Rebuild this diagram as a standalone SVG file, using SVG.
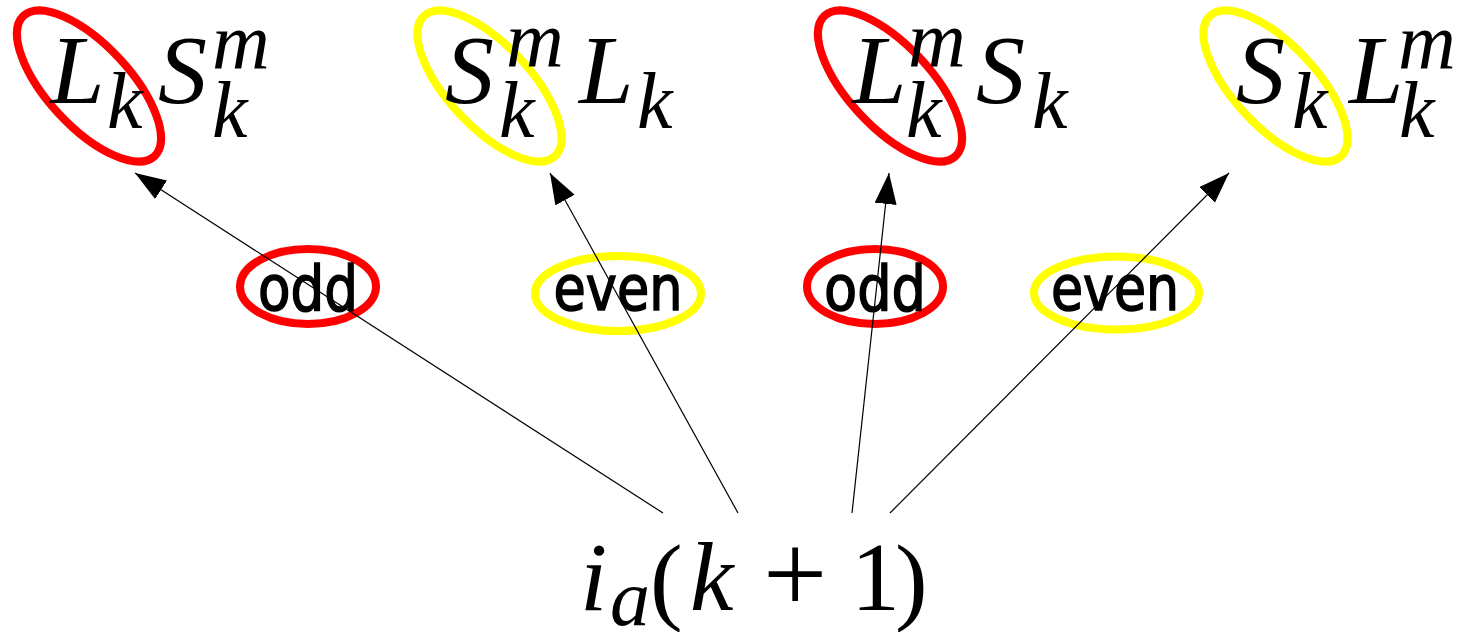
<svg xmlns="http://www.w3.org/2000/svg" width="1474" height="632" viewBox="0 0 1474 632">
<defs>
<style>
.m{font-family:"Liberation Serif",serif;font-style:italic;font-size:98px;fill:#000}
.s{font-family:"Liberation Serif",serif;font-style:italic;font-size:80px;fill:#000}
.r{font-family:"Liberation Serif",serif;font-size:98px;fill:#000}
.lbl{font-family:"DejaVu Sans",sans-serif;font-size:62px;fill:#000;stroke:#000;stroke-width:1.6;text-anchor:middle}
.red{fill:none;stroke:#ff0000;stroke-width:8}
.yel{fill:none;stroke:#ffff00;stroke-width:8}
.con{stroke:#000;stroke-width:1.2;fill:none;marker-end:url(#ah)}
</style>
<marker id="ah" markerUnits="userSpaceOnUse" markerWidth="32" markerHeight="24" refX="31" refY="11" orient="auto">
<path d="M0,0 L31,11 L0,22 Z" fill="#000"/>
</marker>
</defs>
<rect width="1474" height="632" fill="#fff"/>

<g id="node1">
<ellipse class="red" cx="89" cy="86" rx="96" ry="41" transform="rotate(47 89 86)"/>
<text class="m" x="50" y="103">L</text>
<text class="s" x="107" y="128">k</text>
<text class="m" x="158" y="103">S</text>
<text class="s" x="212" y="68">m</text>
<text class="s" x="212" y="137">k</text>
</g>

<g id="node2">
<ellipse class="yel" cx="489.5" cy="86" rx="96" ry="41" transform="rotate(47 489.5 86)"/>
<text class="m" x="445" y="103">S</text>
<text class="s" x="506" y="66">m</text>
<text class="s" x="499" y="137">k</text>
<text class="m" x="579" y="103">L</text>
<text class="s" x="637" y="128">k</text>
</g>

<g id="node3">
<ellipse class="red" cx="890" cy="86" rx="96" ry="41" transform="rotate(47 890 86)"/>
<text class="m" x="852" y="103">L</text>
<text class="s" x="908" y="66">m</text>
<text class="s" x="906" y="137">k</text>
<text class="m" x="976" y="103">S</text>
<text class="s" x="1032" y="128">k</text>
</g>

<g id="node4">
<ellipse class="yel" cx="1275.5" cy="86" rx="96" ry="41" transform="rotate(47 1275.5 86)"/>
<text class="m" x="1236" y="103">S</text>
<text class="s" x="1292" y="128">k</text>
<text class="m" x="1349" y="103">L</text>
<text class="s" x="1398" y="68">m</text>
<text class="s" x="1399" y="137">k</text>
</g>

<g id="label-odd-1">
<ellipse class="red" cx="308" cy="286.5" rx="68" ry="37.5"/>
<text class="lbl" x="308" y="310" textLength="100" lengthAdjust="spacingAndGlyphs">odd</text>
</g>
<g id="label-even-1">
<ellipse class="yel" cx="618" cy="293.5" rx="83" ry="37.5"/>
<text class="lbl" x="618" y="310" textLength="129" lengthAdjust="spacingAndGlyphs">even</text>
</g>
<g id="label-odd-2">
<ellipse class="red" cx="875" cy="286.5" rx="68" ry="37.5"/>
<text class="lbl" x="875" y="310" textLength="102" lengthAdjust="spacingAndGlyphs">odd</text>
</g>
<g id="label-even-2">
<ellipse class="yel" cx="1116.5" cy="293" rx="82.5" ry="36.5"/>
<text class="lbl" x="1115" y="310" textLength="128" lengthAdjust="spacingAndGlyphs">even</text>
</g>

<g id="source">
<text class="m" x="580" y="610">i</text>
<text class="s" x="610" y="625">a</text>
<text class="r" x="650" y="612">(</text>
<text class="m" x="690" y="610">k</text>
<text class="r" x="763" y="612" style="font-size:114px">+</text>
<text class="r" x="851" y="610">1</text>
<text class="r" x="895" y="612">)</text>
</g>

<g id="connectors">
<line class="con" x1="663" y1="513" x2="135" y2="173"/>
<line class="con" x1="738" y1="513" x2="550" y2="173"/>
<line class="con" x1="852" y1="513" x2="889" y2="173"/>
<line class="con" x1="890" y1="513" x2="1229" y2="173"/>
</g>
</svg>
